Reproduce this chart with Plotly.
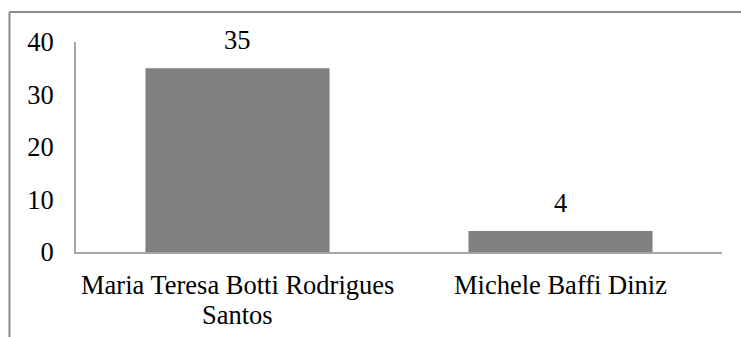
import plotly.graph_objects as go

categories = ["Maria Teresa Botti Rodrigues Santos", "Michele Baffi Diniz"]
label_lines = [["Maria Teresa Botti Rodrigues", "Santos"], ["Michele Baffi Diniz"]]
values = [35, 4]
y_ticks = [0, 10, 20, 30, 40]

FONT = dict(family="Liberation Serif", size=26.5, color="#000000")

fig = go.Figure()
fig.add_trace(go.Bar(x=categories, y=values, marker=dict(color="#808080", line=dict(width=0)),
                     hoverinfo="skip"))

for c, v in zip(categories, values):
    fig.add_annotation(x=c, y=v, text=str(v), showarrow=False, yanchor="bottom",
                       yshift=11, font=FONT)

for c, lines in zip(categories, label_lines):
    for i, line in enumerate(lines):
        fig.add_annotation(x=c, xref="x", y=0, yref="paper", text=line, showarrow=False,
                           yanchor="middle", yshift=-33 - 30 * i, font=FONT)

fig.update_layout(
    width=741, height=337,
    margin=dict(l=76, r=19, t=42, b=85),
    paper_bgcolor="white", plot_bgcolor="white",
    bargap=0.43,
    showlegend=False,
    font=FONT,
    xaxis=dict(showline=True, linecolor="#a6a6a6", linewidth=2, showgrid=False,
               ticks="", showticklabels=False, automargin=False),
    yaxis=dict(range=[0, 40], tickvals=y_ticks, showline=True, linecolor="#a6a6a6",
               linewidth=2, showgrid=False, zeroline=False, ticks="", tickfont=FONT,
               ticklabelstandoff=15, automargin=False),
    shapes=[
        dict(type="line", xref="paper", yref="paper", x0=-0.103, x1=1.2, y0=1.143, y1=1.143,
             line=dict(color="#8c8c8c", width=2)),
        dict(type="line", xref="paper", yref="paper", x0=-0.103, x1=-0.103, y0=1.143, y1=-0.5,
             line=dict(color="#8c8c8c", width=2)),
    ],
)

fig.write_html("out.html")
